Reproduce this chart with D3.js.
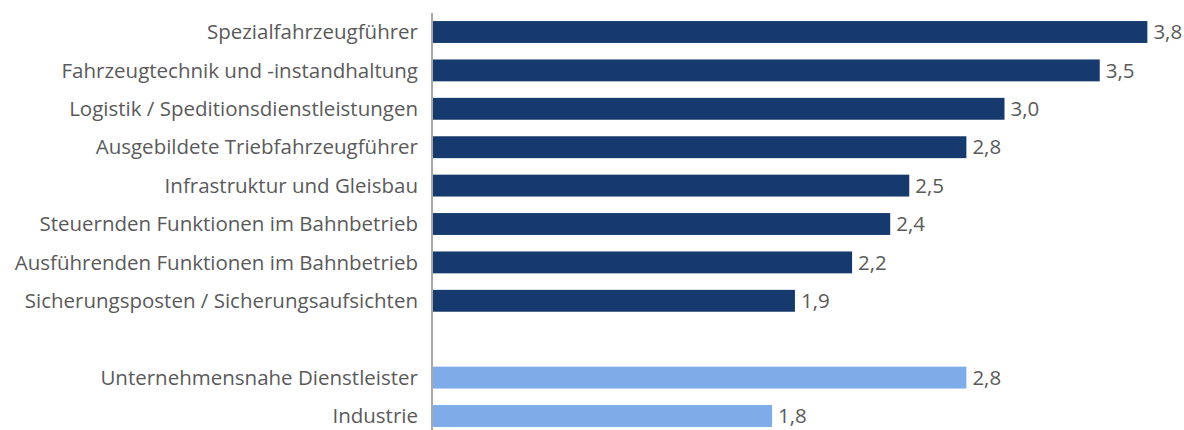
<!DOCTYPE html>
<html>
<head>
<meta charset="utf-8">
<script src="https://cdn.jsdelivr.net/npm/d3@7"></script>
<style>
  body { margin: 0; background: #fff; }
  svg text { font-family: "Open Sans", sans-serif; }
</style>
</head>
<body>
<div id="chart"></div>
<script>
// categories top to bottom, "" marks the empty gap row
var categories = [
    "Spezialfahrzeugführer",
    "Fahrzeugtechnik und -instandhaltung",
    "Logistik / Speditionsdienstleistungen",
    "Ausgebildete Triebfahrzeugführer",
    "Infrastruktur und Gleisbau",
    "Steuernden Funktionen im Bahnbetrieb",
    "Ausführenden Funktionen im Bahnbetrieb",
    "Sicherungsposten / Sicherungsaufsichten",
    "",
    "Unternehmensnahe Dienstleister",
    "Industrie"
];
var values = [3.75, 3.5, 3.0, 2.8, 2.5, 2.4, 2.2, 1.9, null, 2.8, 1.78];
var groups = ["bahn", "bahn", "bahn", "bahn", "bahn", "bahn", "bahn", "bahn", null, "vergleich", "vergleich"];

var width = 1184, height = 430;
var x0 = 433;

var colors = { bahn: "#163a6e", vergleich: "#7eace9" };

var de = d3.formatLocale({ decimal: ",", thousands: ".", grouping: [3], currency: ["", " €"] });
var fmt = de.format(".1f");

var svg = d3.select("#chart").append("svg")
    .attr("width", width)
    .attr("height", height);

var x = d3.scaleLinear()
    .domain([0, 4])
    .range([x0, x0 + 4 * 190.5]);

var y = d3.scaleBand()
    .domain(d3.range(categories.length))
    .range([12.8, 435.2])
    .paddingInner(0.43)
    .paddingOuter(0.215);

var rows = categories.map(function (c, i) {
    return { name: c, value: values[i], group: groups[i], i: i };
});

// bars
svg.selectAll(".bar")
    .data(rows.filter(function (d) { return d.value !== null; }))
    .enter().append("rect")
    .attr("class", "bar")
    .attr("x", x(0))
    .attr("y", function (d) { return y(d.i); })
    .attr("width", function (d) { return x(d.value) - x(0); })
    .attr("height", y.bandwidth())
    .style("fill", function (d) { return colors[d.group]; });

// category labels
svg.selectAll(".cat")
    .data(rows.filter(function (d) { return d.name !== ""; }))
    .enter().append("text")
    .attr("class", "cat")
    .attr("x", 418)
    .attr("y", function (d) { return y(d.i) + y.bandwidth() / 2; })
    .attr("dy", "0.35em")
    .attr("text-anchor", "end")
    .style("font-size", "20.5px")
    .style("fill", "#5a5a5a")
    .text(function (d) { return d.name; });

// value labels
svg.selectAll(".val")
    .data(rows.filter(function (d) { return d.value !== null; }))
    .enter().append("text")
    .attr("class", "val")
    .attr("x", function (d) { return x(d.value) + 6; })
    .attr("y", function (d) { return y(d.i) + y.bandwidth() / 2; })
    .attr("dy", "0.35em")
    .style("font-size", "20.5px")
    .style("fill", "#5a5a5a")
    .text(function (d) { return fmt(d.value); });

// vertical axis line
svg.append("line")
    .attr("x1", 432).attr("x2", 432)
    .attr("y1", 13).attr("y2", height)
    .style("stroke", "#8c8c8c")
    .style("stroke-width", 1.5);
</script>
</body>
</html>
